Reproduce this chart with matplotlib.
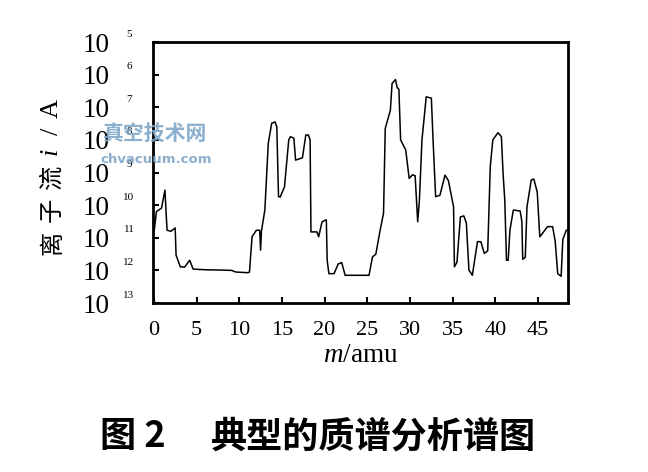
import matplotlib
matplotlib.use('Agg')
import matplotlib.pyplot as plt
import matplotlib.transforms as mtransforms
import numpy as np

# mass number (amu) and log10 of ion current (A)
mass = [0.05, 0.3, 0.9, 1.3, 1.45, 1.55, 2.0, 2.5, 2.6, 3.1, 3.6, 4.2, 4.6,
        6.0, 7.9, 9.1, 9.6, 11.0, 11.2, 11.5, 12.0, 12.4, 12.5, 12.6, 13.0,
        13.4, 13.8, 14.2, 14.4, 14.6, 14.8, 15.3, 15.8, 16.0, 16.4, 16.6,
        17.4, 17.8, 18.1, 18.3, 18.4, 19.1, 19.3, 19.7, 20.2, 20.3, 20.5,
        21.1, 21.6, 22.0, 22.4, 25.2, 25.6, 26.0, 26.5, 26.9, 27.1, 27.7,
        27.9, 28.3, 28.5, 28.7, 28.9, 29.5, 29.9, 30.3, 30.6, 30.9, 31.1,
        31.4, 31.9, 32.5, 32.7, 33.0, 33.5, 34.1, 34.5, 35.1, 35.2, 35.5,
        35.9, 36.3, 36.6, 36.9, 37.3, 37.9, 38.3, 38.7, 39.1, 39.4, 39.7,
        40.3, 40.7, 40.9, 41.1, 41.3, 41.5, 41.7, 42.1, 42.9, 43.1, 43.2,
        43.5, 43.7, 44.2, 44.5, 44.9, 45.2, 45.5, 46.1, 46.7, 47.0, 47.3,
        47.7, 47.9, 48.3, 48.6]
log_i = [-10.77, -10.2, -10.09, -9.54, -10.3, -10.77, -10.8, -10.7, -11.53,
         -11.89, -11.9, -11.69, -11.96, -11.98, -11.99, -12.0, -12.05,
         -12.07, -12.05, -10.97, -10.77, -10.77, -11.38, -10.8, -10.15,
         -8.11, -7.49, -7.45, -7.6, -9.74, -9.75, -9.44, -8.0, -7.9, -7.95,
         -8.62, -8.55, -7.85, -7.85, -8.0, -10.82, -10.82, -10.97, -10.51,
         -10.45, -11.69, -12.1, -12.1, -11.8, -11.76, -12.15, -12.15, -11.59,
         -11.5, -10.77, -10.25, -7.65, -7.09, -6.27, -6.15, -6.4, -6.45,
         -8.0, -8.31, -9.18, -9.07, -9.1, -10.51, -9.85, -8.0, -6.68, -6.72,
         -8.0, -9.74, -9.7, -9.08, -9.25, -10.05, -11.89, -11.75, -10.36,
         -10.33, -10.55, -11.99, -12.15, -11.12, -11.12, -11.48, -11.4,
         -8.82, -8.0, -7.78, -7.9, -9.03, -9.85, -11.69, -11.69, -10.77,
         -10.15, -10.18, -10.5, -11.66, -11.6, -10.05, -9.23, -9.2, -9.6,
         -10.97, -10.87, -10.66, -10.66, -11.1, -12.1, -12.18, -11.05,
         -10.77, -10.75]

x_ticks = [0, 5, 10, 15, 20, 25, 30, 35, 40, 45]
y_exponents = [5, 6, 7, 8, 9, 10, 11, 12, 13]

serif = ['Liberation Serif', 'DejaVu Serif']
cjk = ['Noto Sans CJK SC', 'DejaVu Sans']

plt.rcParams['mathtext.fontset'] = 'custom'
plt.rcParams['mathtext.rm'] = 'Liberation Serif'
plt.rcParams['mathtext.it'] = 'Liberation Serif:italic'

fig = plt.figure(figsize=(6.48, 4.72), dpi=100)
ax = fig.add_axes([0.2361, 0.358, 0.6404, 0.553])

ax.semilogy(mass, 10.0 ** np.array(log_i), color='black', linewidth=1.1)
ax.set_xlim(-0.1, 48.5)
ax.set_ylim(1e-13, 1e-5)

ax.set_xticks(x_ticks)
ax.set_xticklabels([str(t) for t in x_ticks], fontfamily=serif, fontsize=16)
ax.set_yticks([10.0 ** -e for e in y_exponents])
ax.set_yticklabels(['10'] * len(y_exponents), fontfamily=serif, fontsize=19.5)
ax.yaxis.set_minor_locator(matplotlib.ticker.NullLocator())
ax.tick_params(axis='both', direction='in', length=4, width=1.5)
ax.tick_params(axis='y', pad=31)
ax.tick_params(axis='x', pad=13)
for s in ax.spines.values():
    s.set_linewidth(2.0)

# exponents (shown without minus sign, as in the original)
trans = mtransforms.blended_transform_factory(ax.transAxes, ax.transData)
offset = mtransforms.ScaledTranslation(-24 / 100, 8 / 100, fig.dpi_scale_trans)
for e in y_exponents:
    ax.text(0, 10.0 ** -e, str(e), transform=trans + offset, fontfamily=serif,
            fontsize=8, ha='center', va='center')

ax.set_xlabel('$\\it{m}$/amu', fontfamily=serif, fontsize=19.5, labelpad=2)

# y label, one glyph at a time (widely spaced in the original)
ylab_x = 52 / 648
for ch, py, fam, fs in [('离', 243, cjk, 17.5), ('子', 210, cjk, 17.5),
                        ('流', 177, cjk, 17.5), ('$\\it{i}$', 153, serif, 19),
                        ('/', 131, serif, 19), ('A', 108, serif, 19)]:
    fig.text(ylab_x, 1 - py / 472, ch, rotation=90, fontfamily=fam, fontsize=fs,
             ha='center', va='center')

# watermark
fig.text(0.240, 0.718, '真空技术网', fontfamily=cjk, fontsize=15, fontweight='bold',
         color='#7ea6c8', alpha=0.9, ha='center', va='center')
fig.text(0.241, 0.662, 'chvacuum.com', fontfamily=['DejaVu Sans'], fontsize=9.5,
         fontweight='bold', color='#7ea6c8', alpha=0.9, ha='center', va='center')

fig.text(133 / 648, 1 - 437 / 472, '图 2', fontfamily=cjk, fontsize=26,
         fontweight='bold', ha='center', va='center')
fig.text(373 / 648, 1 - 437 / 472, '典型的质谱分析谱图', fontfamily=cjk, fontsize=26,
         fontweight='bold', ha='center', va='center')

fig.savefig('out.png', dpi=100)
